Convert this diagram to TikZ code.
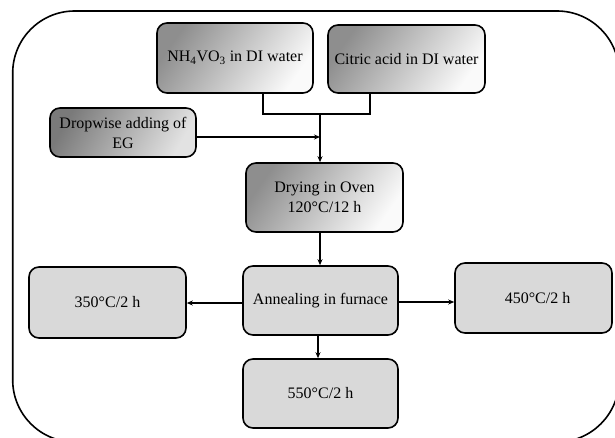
\documentclass[tikz,border=0pt]{standalone}
\usepackage{fontspec}
\setmainfont{Liberation Serif}
\usetikzlibrary{arrows.meta,calc}
\definecolor{boxgray}{HTML}{D9D9D9}
\definecolor{shdark}{HTML}{8E8E8E}
\definecolor{shlight}{HTML}{FAFAFA}
\definecolor{shdarker}{HTML}{7A7A7A}
\definecolor{shlighter}{HTML}{E2E2E2}
\tikzset{
  basebox/.style={draw=black, line width=1.6pt, rounded corners=10pt,
    inner sep=0pt, align=center, font=\fontsize{16}{20}\selectfont},
  graybox/.style={basebox, fill=boxgray},
  shadebox/.style={basebox, top color=shdark, bottom color=shlight, shading angle=55},
  darkshadebox/.style={basebox, top color=shdarker, bottom color=shlighter, shading angle=60},
  conn/.style={draw=black, line width=1.3pt},
  arr/.style={conn, -{Stealth[length=6pt,width=5pt]}},
}
\begin{document}
\begin{tikzpicture}[x=1pt,y=-1pt]
\useasboundingbox (0,0) rectangle (615,438);
\clip (0,0) rectangle (615,438);
\draw[line width=1.6pt, rounded corners=62pt] (12.7,11) rectangle (619,442);

\node[shadebox, minimum width=156pt, minimum height=70pt] (nh) at (235,58)
  {NH\textsubscript{4}VO\textsubscript{3} in DI water};
\node[shadebox, minimum width=157pt, minimum height=68pt] (ci) at (406.5,59)
  {Citric acid in DI water};
\node[darkshadebox, minimum width=146pt, minimum height=49pt] (drop) at (123,132.5)
  {Dropwise adding of\\EG};
\node[shadebox, minimum width=157pt, minimum height=69pt] (dry) at (324.5,197.5)
  {Drying in Oven\\120°C/12 h};
\node[graybox, minimum width=155pt, minimum height=69pt] (ann) at (320.5,300.5)
  {Annealing in furnace};
\node[graybox, minimum width=157pt, minimum height=71pt] (t350) at (107.5,302.5)
  {350°C/2 h};
\node[graybox, minimum width=157pt, minimum height=70pt] (t450) at (533.5,298)
  {\hspace*{8pt}450°C/2 h};
\node[graybox, minimum width=155pt, minimum height=69pt] (t550) at (320.5,393.5)
  {550°C/2 h};

\coordinate (j) at (320,114);
\coordinate (de) at ([yshift=-4.5pt]drop.east);
\coordinate (ae) at ([yshift=-1.5pt]ann.east);
\coordinate (aw) at ([yshift=-2.5pt]ann.west);
\coordinate (as) at ([xshift=-2.5pt]ann.south);

\draw[conn] ([xshift=28pt]nh.south) |- (j) -| ([xshift=-36.5pt]ci.south);
\draw[arr] (j) -- (j |- dry.north);
\draw[arr] (de) -- (de -| j);
\draw[arr] (dry.south -| j) -- (j |- ann.north);
\draw[arr] (aw) -- (aw -| t350.east);
\draw[arr] (ae) -- (ae -| t450.west);
\draw[arr] (as) -- (as |- t550.north);
\end{tikzpicture}
\end{document}
